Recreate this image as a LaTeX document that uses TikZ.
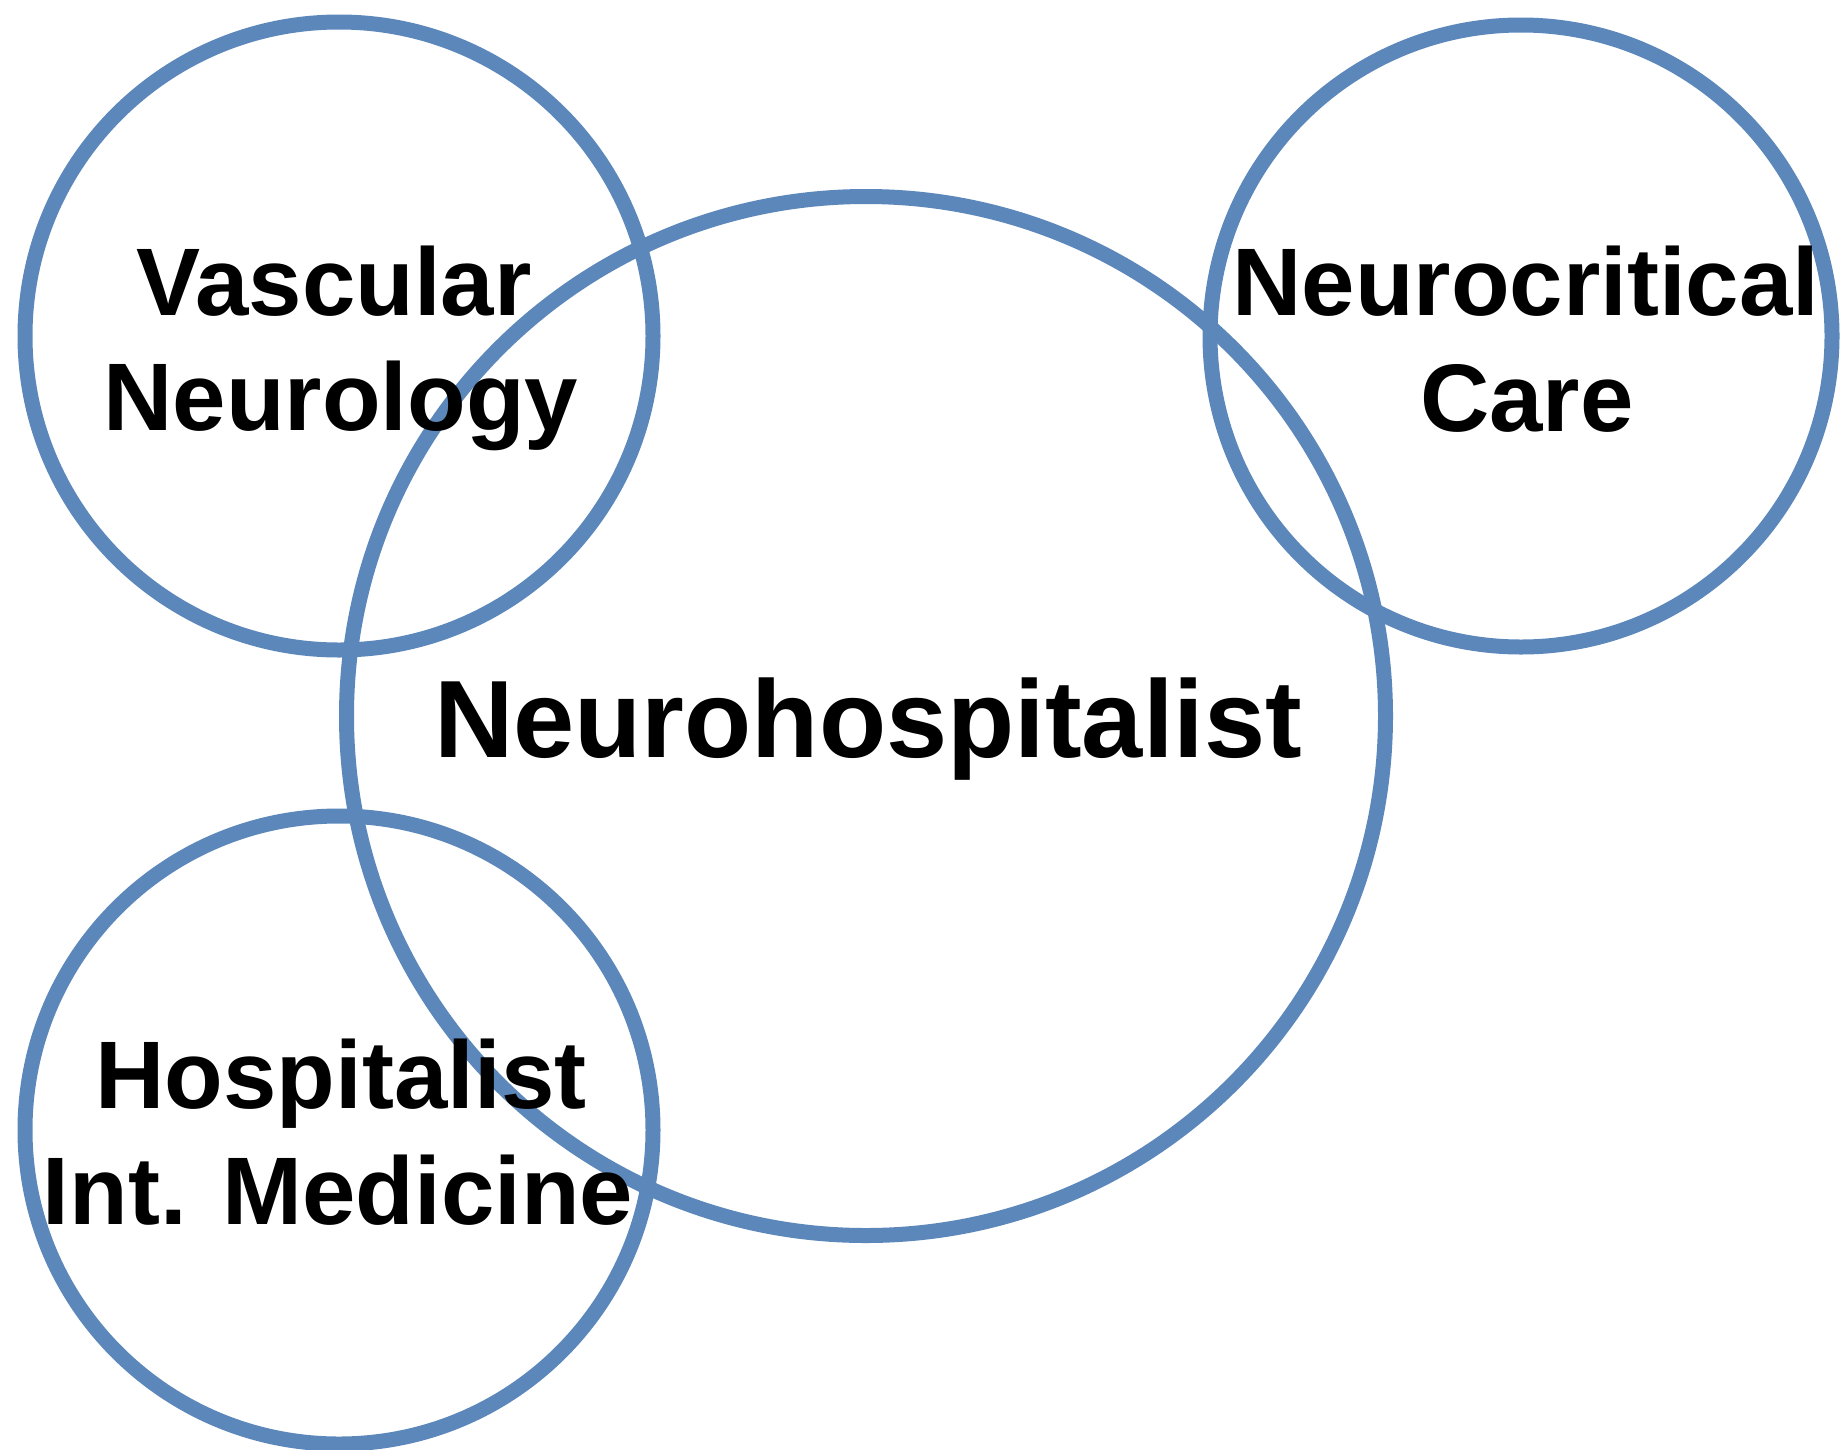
\documentclass[tikz,border=0pt]{standalone}
\usepackage{fontspec}
\setmainfont{Liberation Sans}
\definecolor{ringblue}{RGB}{92,135,186}
\tikzset{
  ring/.style={circle, draw=ringblue, line width=15pt, inner sep=0pt, outer sep=0pt},
  smalllab/.style={anchor=base, inner sep=0pt, font=\fontsize{96}{115}\selectfont\bfseries},
  biglab/.style={anchor=base, inner sep=0pt, font=\fontsize{110}{130}\selectfont\bfseries}
}
\begin{document}
\begin{tikzpicture}[x=1pt,y=-1pt]
\useasboundingbox (0,0) rectangle (1845,1449);
\fill[white] (0,0) rectangle (1845,1449);
\node[ring, minimum size=1039pt] (neuro) at (866,716) {};
\node[ring, minimum size=628pt] (vasc) at (339,336) {};
\node[ring, minimum size=622pt] (crit) at (1521,336) {};
\node[ring, minimum size=628pt] (hosp) at (339,1130) {};
\node[smalllab] (vascA) at (334,315) {Vascular};
\node[smalllab] (vascB) at (341,430) {Neurology};
\node[smalllab] (critA) at (1526,315) {Neurocritical};
\node[smalllab] (critB) at (1527,431) {Care};
\node[smalllab] (hospA) at (341,1108) {Hospitalist};
\node[smalllab] (hospB) at (338,1224) {Int. Medicine};
\node[biglab] (neuroL) at (868,757) {Neurohospitalist};
\end{tikzpicture}
\end{document}
